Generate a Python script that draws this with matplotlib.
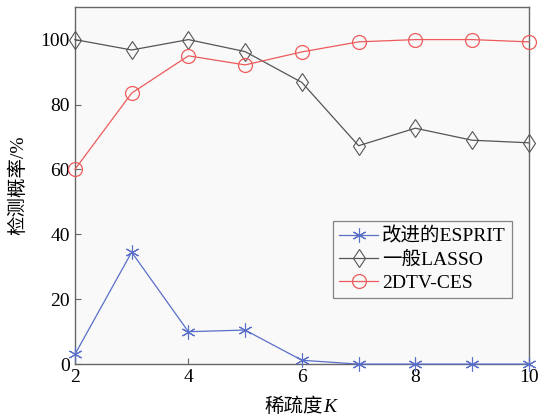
import matplotlib
matplotlib.use("Agg")
import matplotlib.pyplot as plt

K = [2, 3, 4, 5, 6, 7, 8, 9, 10]
esprit = [3, 34.5, 10, 10.5, 1.2, 0, 0, 0, 0]
lasso = [100, 96.8, 100, 96.3, 86.8, 67.3, 72.7, 69, 68.2]
dtv = [60, 83.5, 95, 92.2, 96.2, 99.3, 100, 100, 99.3]
names = ["改进的ESPRIT", "一般LASSO", "2DTV-CES"]
yticks = [0, 20, 40, 60, 80, 100]
xticks = [2, 4, 6, 8, 10]

fam = ["Liberation Serif", "Noto Sans CJK SC"]
plt.rcParams['font.family'] = fam

fig = plt.figure(figsize=(5.39, 4.2), dpi=100)
fig.patch.set_facecolor('white')
ax = fig.add_axes([0.139, 0.133, 0.842, 0.850])
ax.set_facecolor('#f9f9f9')

ax.plot(K, esprit, color='#5a6fc8', marker=(6, 2, 0), markersize=10, markeredgewidth=0.8,
        linewidth=0.9, label=names[0], clip_on=False, zorder=3)
ax.plot(K, lasso, color='#555555', marker='d', markersize=9.5, markeredgewidth=0.8,
        markerfacecolor='none', linewidth=0.9, label=names[1], clip_on=False, zorder=3)
ax.plot(K, dtv, color='#ee5a5a', marker='o', markersize=10, markeredgewidth=0.9,
        markerfacecolor='none', linewidth=0.9, label=names[2], clip_on=False, zorder=3)

ax.set_xlim(2, 10)
ax.set_ylim(0, 110)
ax.set_xticks(xticks)
ax.set_yticks(yticks)
ax.tick_params(direction='in', labelsize=14, length=4, color='#666666')
for s in ax.spines.values():
    s.set_color('#666666')
    s.set_linewidth(1.0)

ax.set_ylabel('检测概率/%', fontsize=14, labelpad=10)

# x label: CJK part + italic K
fig.text(0.599, 0.02, '稀疏度', fontsize=14, ha='right', va='baseline', family=fam)
fig.text(0.599, 0.02, 'K', fontsize=14, ha='left', va='baseline',
         family=['Liberation Serif'], style='italic')

leg = ax.legend(loc='lower right', bbox_to_anchor=(0.962, 0.185), fontsize=14,
                frameon=True, fancybox=False, edgecolor='#666666',
                borderpad=0.3, labelspacing=0.3, handlelength=2.0,
                handletextpad=0.2, borderaxespad=0)
leg.get_frame().set_linewidth(0.9)
leg.get_frame().set_facecolor('#f9f9f9')

fig.savefig('out.png', dpi=100)
